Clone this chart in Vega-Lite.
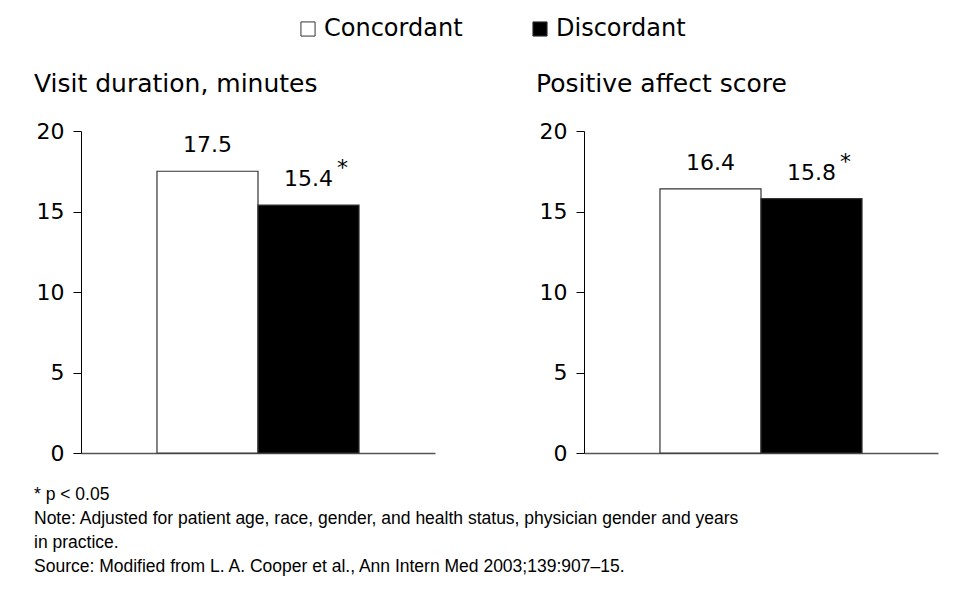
{
  "$schema": "https://vega.github.io/schema/vega-lite/v6.json",
  "background": "white",
  "padding": {"left": 34, "top": 17, "right": 19, "bottom": 20},
  "data": {
    "values": [
      {"measure": "Visit duration, minutes", "group": "Concordant", "value": 17.5, "label": "17.5", "sig": ""},
      {"measure": "Visit duration, minutes", "group": "Discordant", "value": 15.4, "label": "15.4", "sig": "*"},
      {"measure": "Positive affect score", "group": "Concordant", "value": 16.4, "label": "16.4", "sig": ""},
      {"measure": "Positive affect score", "group": "Discordant", "value": 15.8, "label": "15.8", "sig": "*"}
    ]
  },
  "title": {
    "text": [
      "* p < 0.05",
      "Note: Adjusted for patient age, race, gender, and health status, physician gender and years",
      "in practice.",
      "Source: Modified from L. A. Cooper et al., Ann Intern Med 2003;139:907–15."
    ],
    "orient": "bottom",
    "anchor": "start",
    "frame": "bounds",
    "font": "Liberation Sans",
    "fontSize": 17.5,
    "fontWeight": "normal",
    "lineHeight": 24,
    "color": "black",
    "offset": 22
  },
  "spacing": 149,
  "bounds": "flush",
  "resolve": {"scale": {"fill": "shared"}},
  "hconcat": [
    {
      "width": 354,
      "height": 322,
      "title": {"text": "Visit duration, minutes", "anchor": "start", "frame": "group", "dx": -47, "offset": 23, "font": "DejaVu Sans", "fontSize": 25, "fontWeight": "normal", "color": "black"},
      "transform": [{"filter": "datum.measure === 'Visit duration, minutes'"}],
      "encoding": {
        "x": {"field": "group", "type": "nominal", "sort": ["Concordant", "Discordant"],
              "scale": {"paddingInner": 0, "paddingOuter": 0.752},
              "axis": {"title": null, "labels": false, "ticks": false, "domainColor": "#555555", "domainWidth": 1.5}},
        "y": {"field": "value", "type": "quantitative",
              "scale": {"domain": [0, 20], "nice": false},
              "axis": {"title": null, "values": [0, 5, 10, 15, 20], "grid": false, "tickSize": 8, "tickColor": "black", "domainColor": "black", "labelFont": "DejaVu Sans", "labelFontSize": 22, "labelColor": "black", "labelPadding": 9}}
      },
      "layer": [
        {"mark": {"type": "bar", "stroke": "#333333", "strokeWidth": 1.2},
         "encoding": {"fill": {"field": "group", "type": "nominal", "scale": {"domain": ["Concordant", "Discordant"], "range": ["white", "black"]},
           "legend": {"title": null, "orient": "none", "legendX": 215, "legendY": -114, "direction": "horizontal", "symbolType": "square", "symbolSize": 200, "symbolStrokeColor": "#333333", "symbolStrokeWidth": 1, "labelFont": "DejaVu Sans", "labelFontSize": 24, "labelColor": "black", "columnPadding": 65, "labelOffset": 4}}}},
        {"mark": {"type": "text", "font": "DejaVu Sans", "fontSize": 22, "color": "black", "baseline": "alphabetic", "dy": -19},
         "encoding": {"text": {"field": "label"}}},
        {"mark": {"type": "text", "font": "DejaVu Sans", "fontSize": 22, "color": "black", "baseline": "alphabetic", "dy": -30, "dx": 34},
         "encoding": {"text": {"field": "sig"}}}
      ]
    },
    {
      "width": 354,
      "height": 322,
      "title": {"text": "Positive affect score", "anchor": "start", "frame": "group", "dx": -48, "offset": 23, "font": "DejaVu Sans", "fontSize": 25, "fontWeight": "normal", "color": "black"},
      "transform": [{"filter": "datum.measure === 'Positive affect score'"}],
      "encoding": {
        "x": {"field": "group", "type": "nominal", "sort": ["Concordant", "Discordant"],
              "scale": {"paddingInner": 0, "paddingOuter": 0.752},
              "axis": {"title": null, "labels": false, "ticks": false, "domainColor": "#555555", "domainWidth": 1.5}},
        "y": {"field": "value", "type": "quantitative",
              "scale": {"domain": [0, 20], "nice": false},
              "axis": {"title": null, "values": [0, 5, 10, 15, 20], "grid": false, "tickSize": 8, "tickColor": "black", "domainColor": "black", "labelFont": "DejaVu Sans", "labelFontSize": 22, "labelColor": "black", "labelPadding": 9}}
      },
      "layer": [
        {"mark": {"type": "bar", "stroke": "#333333", "strokeWidth": 1.2},
         "encoding": {"fill": {"field": "group", "type": "nominal", "scale": {"domain": ["Concordant", "Discordant"], "range": ["white", "black"]}}}},
        {"mark": {"type": "text", "font": "DejaVu Sans", "fontSize": 22, "color": "black", "baseline": "alphabetic", "dy": -19},
         "encoding": {"text": {"field": "label"}}},
        {"mark": {"type": "text", "font": "DejaVu Sans", "fontSize": 22, "color": "black", "baseline": "alphabetic", "dy": -30, "dx": 34},
         "encoding": {"text": {"field": "sig"}}}
      ]
    }
  ],
  "config": {"view": {"stroke": null}}
}
